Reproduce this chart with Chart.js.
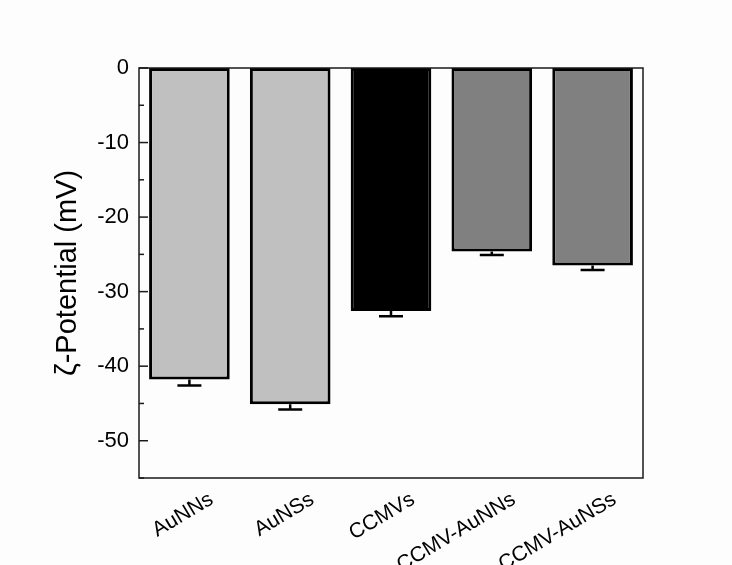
<!DOCTYPE html>
<html>
<head>
<meta charset="utf-8">
<script src="https://cdn.jsdelivr.net/npm/chart.js@4"></script>
<style>
  html, body { margin: 0; padding: 0; background: #fdfdfd; }
  #wrap { width: 732px; height: 565px; }
</style>
</head>
<body>
<div id="wrap"><canvas id="zetaChart" width="732" height="565"></canvas></div>
<script>
// samples and measured zeta potential (mV)
const samples = ["AuNNs", "AuNSs", "CCMVs", "CCMV-AuNNs", "CCMV-AuNSs"];
const zeta = [-41.8, -45.1, -32.6, -24.6, -26.5];
const zetaErr = [0.8, 0.7, 0.7, 0.5, 0.6];
const barColors = ["#c0c0c0", "#c0c0c0", "#000000", "#808080", "#808080"];

const yMin = -55;
const yMax = 0;
const majorStep = 10;
const minorStep = 5;

// box around the plot + inward ticks on the left axis
const frameAndTicks = {
    id: "frameAndTicks",
    afterDatasetsDraw(chart) {
        const ctx = chart.ctx;
        const area = chart.chartArea;
        const y = chart.scales.y;
        ctx.save();
        ctx.strokeStyle = "#1a1a1a";
        ctx.lineWidth = 1.5;
        ctx.strokeRect(area.left, area.top, area.right - area.left, area.bottom - area.top);
        for (let v = yMax; v >= yMin; v -= minorStep) {
            const py = y.getPixelForValue(v);
            const len = v % majorStep === 0 ? 9 : 5;
            ctx.beginPath();
            ctx.moveTo(area.left, py);
            ctx.lineTo(area.left + len, py);
            ctx.stroke();
        }
        ctx.restore();
    },
};

// one-sided error bars below each bar
const errorBars = {
    id: "errorBars",
    afterDatasetsDraw(chart) {
        const ctx = chart.ctx;
        const y = chart.scales.y;
        const meta = chart.getDatasetMeta(0);
        ctx.save();
        ctx.strokeStyle = "#000";
        ctx.lineWidth = 2.5;
        meta.data.forEach((bar, i) => {
            const y0 = y.getPixelForValue(zeta[i]);
            const y1 = y.getPixelForValue(zeta[i] - zetaErr[i]);
            ctx.beginPath();
            ctx.moveTo(bar.x, y0);
            ctx.lineTo(bar.x, y1);
            ctx.moveTo(bar.x - 12, y1);
            ctx.lineTo(bar.x + 12, y1);
            ctx.stroke();
        });
        ctx.restore();
    },
};

new Chart(document.getElementById("zetaChart"), {
    type: "bar",
    data: {
        labels: samples,
        datasets: [
            {
                data: zeta,
                backgroundColor: barColors,
                borderColor: "#000",
                borderWidth: 3,
                borderSkipped: false,
                barPercentage: 0.8,
                categoryPercentage: 1,
            },
        ],
    },
    options: {
        responsive: false,
        animation: false,
        events: [],
        layout: { padding: { top: 68, right: 89, left: 0, bottom: 0 } },
        plugins: {
            legend: { display: false },
            tooltip: { enabled: false },
        },
        scales: {
            x: {
                grid: { display: false, drawTicks: false },
                border: { display: false },
                ticks: {
                    color: "#000",
                    font: { family: "Liberation Sans, Arial", size: 21 },
                    minRotation: 31,
                    maxRotation: 31,
                    padding: 9,
                    labelOffset: 22,
                },
                afterFit(scale) {
                    scale.height = 87;
                },
            },
            y: {
                min: yMin,
                max: yMax,
                grid: { display: false, drawTicks: false },
                border: { display: false },
                ticks: {
                    stepSize: majorStep,
                    includeBounds: false,
                    color: "#000",
                    padding: 10,
                    font: { family: "Liberation Sans, Arial", size: 22 },
                },
                title: {
                    display: true,
                    text: "ζ-Potential (mV)",
                    color: "#000",
                    font: { family: "Liberation Sans, Arial", size: 29 },
                    padding: { top: 51, bottom: 0 },
                },
                afterFit(scale) {
                    scale.width = 139;
                },
            },
        },
    },
    plugins: [frameAndTicks, errorBars],
});
</script>
</body>
</html>
